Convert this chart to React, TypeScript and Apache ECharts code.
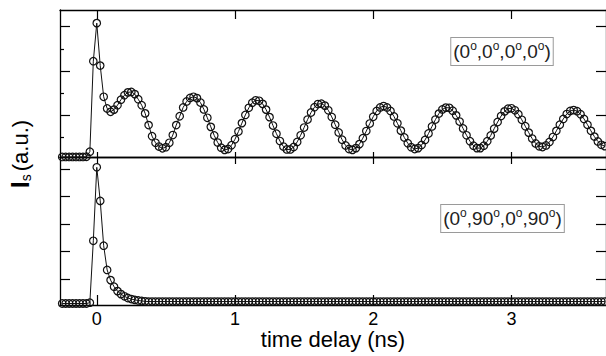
import React, { useEffect, useRef } from "react";
import * as echarts from "echarts";

// time delay in ns (sampling of the measurement)
const timeNs = [
  -0.25, -0.225, -0.2, -0.175, -0.15, -0.125, -0.1, -0.075, -0.05, -0.025,
  0, 0.025, 0.05, 0.075, 0.1, 0.125, 0.15, 0.175, 0.2, 0.225,
  0.25, 0.275, 0.3, 0.325, 0.35, 0.375, 0.4, 0.425, 0.45, 0.475,
  0.5, 0.525, 0.55, 0.575, 0.6, 0.625, 0.65, 0.675, 0.7, 0.725,
  0.75, 0.775, 0.8, 0.825, 0.85, 0.875, 0.9, 0.925, 0.95, 0.975,
  1.0, 1.025, 1.05, 1.075, 1.1, 1.125, 1.15, 1.175, 1.2, 1.225,
  1.25, 1.275, 1.3, 1.325, 1.35, 1.375, 1.4, 1.425, 1.45, 1.475,
  1.5, 1.525, 1.55, 1.575, 1.6, 1.625, 1.65, 1.675, 1.7, 1.725,
  1.75, 1.775, 1.8, 1.825, 1.85, 1.875, 1.9, 1.925, 1.95, 1.975,
  2.0, 2.025, 2.05, 2.075, 2.1, 2.125, 2.15, 2.175, 2.2, 2.225,
  2.25, 2.275, 2.3, 2.325, 2.35, 2.375, 2.4, 2.425, 2.45, 2.475,
  2.5, 2.525, 2.55, 2.575, 2.6, 2.625, 2.65, 2.675, 2.7, 2.725,
  2.75, 2.775, 2.8, 2.825, 2.85, 2.875, 2.9, 2.925, 2.95, 2.975,
  3.0, 3.025, 3.05, 3.075, 3.1, 3.125, 3.15, 3.175, 3.2, 3.225,
  3.25, 3.275, 3.3, 3.325, 3.35, 3.375, 3.4, 3.425, 3.45, 3.475,
  3.5, 3.525, 3.55, 3.575, 3.6, 3.625, 3.65, 3.675,
];

// I_s for (0°,0°,0°,0°)
const signalParallel = [
  0.11, 0.11, 0.11, 0.11, 0.11, 0.11, 0.11, 0.12, 0.35, 4.44,
  6.16, 4.24, 2.83, 2.3, 2.15, 2.25, 2.45, 2.7, 2.9, 3.03,
  3.05, 2.95, 2.72, 2.45, 2.08, 1.55, 1.05, 0.75, 0.58, 0.5,
  0.55, 0.75, 1.1, 1.55, 1.95, 2.35, 2.62, 2.78, 2.83, 2.77,
  2.57, 2.26, 1.88, 1.47, 1.08, 0.76, 0.53, 0.43, 0.47, 0.64,
  0.91, 1.26, 1.64, 2.01, 2.33, 2.56, 2.67, 2.65, 2.51, 2.25,
  1.91, 1.53, 1.16, 0.83, 0.58, 0.45, 0.45, 0.56, 0.79, 1.09,
  1.44, 1.8, 2.12, 2.36, 2.5, 2.52, 2.43, 2.22, 1.92, 1.57,
  1.22, 0.89, 0.63, 0.47, 0.43, 0.51, 0.69, 0.96, 1.28, 1.62,
  1.93, 2.19, 2.35, 2.41, 2.35, 2.19, 1.94, 1.63, 1.3, 0.99,
  0.73, 0.55, 0.47, 0.51, 0.65, 0.88, 1.17, 1.49, 1.8, 2.07,
  2.26, 2.34, 2.33, 2.2, 1.99, 1.71, 1.4, 1.09, 0.82, 0.62,
  0.51, 0.51, 0.62, 0.82, 1.08, 1.39, 1.69, 1.96, 2.17, 2.29,
  2.31, 2.22, 2.04, 1.79, 1.5, 1.21, 0.94, 0.72, 0.59, 0.56,
  0.63, 0.79, 1.01, 1.29, 1.57, 1.83, 2.05, 2.19, 2.23, 2.18,
  2.04, 1.83, 1.57, 1.29, 1.03, 0.81, 0.66, 0.6,
];

// I_s for (0°,90°,0°,90°)
const signalCrossed = [
  0.11, 0.11, 0.11, 0.11, 0.11, 0.11, 0.11, 0.11, 0.14, 2.39,
  5.06, 3.84, 2.21, 1.33, 0.96, 0.72, 0.56, 0.45, 0.37, 0.31,
  0.27, 0.24, 0.22, 0.2, 0.19, 0.18, 0.18, 0.18, 0.18, 0.18,
  0.18, 0.18, 0.18, 0.18, 0.18, 0.18, 0.18, 0.18, 0.18, 0.18,
  0.18, 0.18, 0.18, 0.18, 0.18, 0.18, 0.18, 0.18, 0.18, 0.18,
  0.18, 0.18, 0.18, 0.18, 0.18, 0.18, 0.18, 0.18, 0.18, 0.18,
  0.18, 0.18, 0.18, 0.18, 0.18, 0.18, 0.18, 0.18, 0.18, 0.18,
  0.18, 0.18, 0.18, 0.18, 0.18, 0.18, 0.18, 0.18, 0.18, 0.18,
  0.18, 0.18, 0.18, 0.18, 0.18, 0.18, 0.18, 0.18, 0.18, 0.18,
  0.18, 0.18, 0.18, 0.18, 0.18, 0.18, 0.18, 0.18, 0.18, 0.18,
  0.18, 0.18, 0.18, 0.18, 0.18, 0.18, 0.18, 0.18, 0.18, 0.18,
  0.18, 0.18, 0.18, 0.18, 0.18, 0.18, 0.18, 0.18, 0.18, 0.18,
  0.18, 0.18, 0.18, 0.18, 0.18, 0.18, 0.18, 0.18, 0.18, 0.18,
  0.18, 0.18, 0.18, 0.18, 0.18, 0.18, 0.18, 0.18, 0.18, 0.18,
  0.18, 0.18, 0.18, 0.18, 0.18, 0.18, 0.18, 0.18, 0.18, 0.18,
  0.18, 0.18, 0.18, 0.18, 0.18, 0.18, 0.18, 0.18,
];

const xTicks = [0, 1, 2, 3];
const topMajorTicks = [2, 4, 6];
const topMinorTicks = [1, 3, 5];
const bottomTicks = [1, 2, 3, 4, 5];

const X_MIN = -0.266;
const X_MAX = 3.684;
const TOP_MIN = 0.108;
const TOP_MAX = 6.754;
const BOT_MIN = 0.055;
const BOT_MAX = 5.436;

const FONT = "'Liberation Sans', Arial, sans-serif";
const INK = "#111";

export default function App() {
  const ref = useRef<HTMLDivElement>(null);

  useEffect(() => {
    if (!ref.current) return;
    const chart = echarts.init(ref.current, null, { renderer: "svg" });
    const axisLine = { show: true, onZero: false, lineStyle: { color: "#000", width: 1.3 } };
    const tickStyle = { color: "#000", width: 1.2 };

    const xBase = (gridIndex: number, position: string, len: number) => ({
      type: "value",
      gridIndex,
      position,
      min: X_MIN,
      max: X_MAX,
      axisLine,
      axisTick: { show: true, inside: true, length: len, customValues: xTicks, lineStyle: tickStyle },
      axisLabel: { show: false },
      splitLine: { show: false },
    });

    const yBase = (gridIndex: number, position: string, min: number, max: number, ticks: number[], len: number, line = true) => ({
      type: "value",
      gridIndex,
      position,
      offset: 0,
      min,
      max,
      axisLine: line ? axisLine : { show: false, onZero: false },
      axisTick: { show: true, inside: true, length: len, customValues: ticks, lineStyle: tickStyle },
      axisLabel: { show: false },
      splitLine: { show: false },
    });

    const series = (xi: number, yi: number, values: number[]) => ({
      type: "line",
      xAxisIndex: xi,
      yAxisIndex: yi,
      data: timeNs.map((t, i) => [t, values[i]]),
      symbol: "circle",
      symbolSize: 7.5,
      showSymbol: true,
      showAllSymbol: true,
      clip: false,
      silent: true,
      itemStyle: { color: "transparent", borderColor: INK, borderWidth: 1.2 },
      lineStyle: { color: INK, width: 1 },
    });

    const sup = { fontSize: 12, fontFamily: FONT, fill: "#222", verticalAlign: "top" };
    const norm = { fontSize: 19, lineHeight: 23, fontFamily: FONT, fill: "#222" };

    chart.setOption({
      animation: false,
      backgroundColor: "#fff",
      grid: [
        { left: 60, right: -7, top: 10, height: 147 },
        { left: 60, right: -7, top: 157, height: 148 },
      ],
      xAxis: [
        xBase(0, "top", 9),
        xBase(0, "bottom", 5),
        xBase(1, "top", 7),
        {
          ...xBase(1, "bottom", 10),
          axisLabel: {
            show: true,
            customValues: xTicks,
            fontSize: 18,
            margin: 5,
            color: "#000",
            fontFamily: FONT,
          },
          name: "time delay (ns)",
          nameLocation: "middle",
          nameGap: 23,
          nameTextStyle: { fontSize: 22, color: "#000", fontFamily: FONT },
        },
      ],
      yAxis: [
        yBase(0, "left", TOP_MIN, TOP_MAX, topMajorTicks, 10),
        yBase(0, "left", TOP_MIN, TOP_MAX, topMinorTicks, 4, false),
        yBase(0, "right", TOP_MIN, TOP_MAX, topMajorTicks, 10),
        yBase(1, "left", BOT_MIN, BOT_MAX, bottomTicks, 10),
        yBase(1, "right", BOT_MIN, BOT_MAX, bottomTicks, 10),
      ],
      series: [series(1, 0, signalParallel), series(3, 3, signalCrossed)],
      graphic: [
        {
          type: "text",
          x: 502,
          y: 51.5,
          silent: true,
          style: {
            text: "{n|(0}{s|o}{n|,0}{s|o}{n|,0}{s|o}{n|,0}{s|o}{n|)}",
            rich: { n: norm, s: sup },
            align: "center",
            verticalAlign: "middle",
            borderColor: "#9a9a9a",
            borderWidth: 1,
            padding: [2, 2, 2, 2],
            backgroundColor: "#fff",
          },
        },
        {
          type: "text",
          x: 502.5,
          y: 218.5,
          silent: true,
          style: {
            text: "{n|(0}{s|o}{n|,90}{s|o}{n|,0}{s|o}{n|,90}{s|o}{n|)}",
            rich: { n: norm, s: sup },
            align: "center",
            verticalAlign: "middle",
            borderColor: "#9a9a9a",
            borderWidth: 1,
            padding: [2, 2, 2, 2],
            backgroundColor: "#fff",
          },
        },
        {
          type: "text",
          x: 20,
          y: 154,
          rotation: Math.PI / 2,
          silent: true,
          style: {
            text: "{i|I}{s|s}{n|(a.u.)}",
            rich: {
              i: { fontSize: 25, fontWeight: "bold", fontFamily: FONT, fill: "#000", lineHeight: 26 },
              s: { fontSize: 14, fontFamily: FONT, fill: "#000", verticalAlign: "bottom", padding: [0, 3, 0, 0] },
              n: { fontSize: 22, fontFamily: FONT, fill: "#000" },
            },
            align: "center",
            verticalAlign: "middle",
          },
        },
      ],
    });

    return () => chart.dispose();
  }, []);

  return (
    <div
      ref={ref}
      style={{ position: "fixed", left: 0, top: 0, width: 606, height: 356, background: "#fff" }}
    />
  );
}
